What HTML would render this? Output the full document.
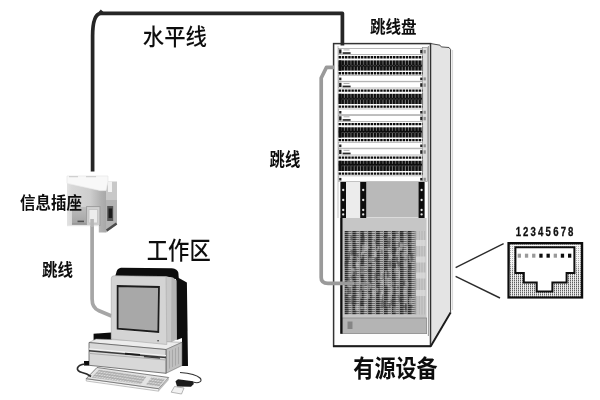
<!DOCTYPE html>
<html lang="zh">
<head>
<meta charset="utf-8">
<title>综合布线系统</title>
<style>
html,body{margin:0;padding:0;background:#fff;}
body{width:600px;height:400px;overflow:hidden;position:relative;font-family:"Liberation Sans","Noto Sans CJK SC",sans-serif;}
svg{position:absolute;left:0;top:0;display:block;}
text{font-family:"Liberation Sans","Noto Sans CJK SC",sans-serif;fill:#101010;}
</style>
</head>
<body>
<svg width="600" height="400" viewBox="0 0 600 400">
<defs>
  <filter id="soft" x="-2%" y="-2%" width="104%" height="104%"><feGaussianBlur stdDeviation="0.5"/></filter>
  <pattern id="ports" width="3.2" height="11" patternUnits="userSpaceOnUse" x="338.6">
    <rect width="3.2" height="11" fill="#101010"/>
    <rect x="2.3" y="0.6" width="0.9" height="9.2" fill="#7c7c7c"/>
  </pattern>
  <pattern id="vstripe" width="1.6" height="4" patternUnits="userSpaceOnUse">
    <rect width="1.6" height="4" fill="#c9c9c9"/>
    <rect width="0.7" height="4" fill="#b2b2b2"/>
  </pattern>
  <pattern id="dots" width="2" height="2" patternUnits="userSpaceOnUse">
    <rect width="2" height="2" fill="#ececec"/>
    <rect width="1" height="1.2" fill="#5e5e5e"/>
    <rect y="1.2" width="1" height="0.8" fill="#a8a8a8"/>
  </pattern>
  <pattern id="dots2" width="2" height="2" patternUnits="userSpaceOnUse">
    <rect width="2" height="2" fill="#f6f6f6"/>
    <rect width="1" height="1" fill="#b0b0b0"/>
  </pattern>
  <pattern id="dense" width="7.9" height="2" patternUnits="userSpaceOnUse" x="344.5" y="231">
    <rect width="7.9" height="2" fill="#858585"/>
    <rect x="0" y="0" width="3.8" height="1" fill="#2c2c2c"/>
    <rect x="0" y="1" width="3.8" height="1" fill="#7c7c7c"/>
    <rect x="3.8" y="0" width="3.4" height="1" fill="#6c6c6c"/>
    <rect x="3.8" y="1" width="3.4" height="1" fill="#b8b8b8"/>
    <rect x="7.2" y="0" width="0.7" height="2" fill="#a4a4a4"/>
  </pattern>
</defs>
<g filter="url(#soft)">
<!-- rack -->
<polygon points="430.5,43.5 440,45.2 441.3,46.9 449,47.5 450.6,49.6 450.6,312.5 430.5,346.3" fill="#e4e4e4" stroke="#4a4a4a" stroke-width="1"/>
<line x1="452.6" y1="50" x2="452.6" y2="310" stroke="#d8d8d8" stroke-width="1"/>
<rect x="333.6" y="43.6" width="96.9" height="302.6" fill="#fdfdfd" stroke="#333" stroke-width="1.5"/>
<line x1="428.4" y1="46" x2="428.4" y2="336" stroke="#8a8a8a" stroke-width="0.9"/>
<line x1="338" y1="46" x2="338" y2="218" stroke="#b5b5b5" stroke-width="0.8"/>
<rect x="422.6" y="47.5" width="4.9" height="134" fill="#dedede" stroke="#8a8a8a" stroke-width="0.6"/>
<rect x="338.6" y="48.4" width="84" height="6.2" fill="#fff" stroke="#9a9a9a" stroke-width="0.7"/>
<rect x="339.1" y="49.4" width="2.4" height="4.2" fill="#1c1c1c"/>
<rect x="342.6" y="52.2" width="8" height="1.7" fill="#2a2a2a"/>
<rect x="343.5" y="49.6" width="6" height="0.7" fill="#8a8a8a"/>
<line x1="338.6" y1="57.2" x2="422.5" y2="57.2" stroke="#0c0c0c" stroke-width="2.4" stroke-dasharray="2.45 0.75"/>
<line x1="338.6" y1="73.2" x2="422.5" y2="73.2" stroke="#0c0c0c" stroke-width="2.4" stroke-dasharray="2.45 0.75"/>
<rect x="338.6" y="60.4" width="83.6" height="10.2" fill="url(#ports)"/>
<rect x="338.6" y="60.4" width="3" height="10.2" fill="#0a0a0a"/>
<line x1="341.6" y1="65.6" x2="422.2" y2="65.6" stroke="#4a4a4a" stroke-width="0.8" stroke-dasharray="2.25 0.95"/>
<rect x="338.6" y="75.6" width="84" height="5.6" fill="#fff" stroke="#9a9a9a" stroke-width="0.6"/>
<rect x="339.2" y="77.6" width="2.2" height="2.6" fill="#222"/>
<rect x="423.6" y="50.0" width="2.2" height="3.4" fill="#8e8e8e"/>
<rect x="420.2" y="49.8" width="2.2" height="3.6" fill="#222"/>
<rect x="423.6" y="77.4" width="2.2" height="3" fill="#8e8e8e"/>
<rect x="420.2" y="77.6" width="2.2" height="2.6" fill="#222"/>
<line x1="422.6" y1="59.4" x2="422.6" y2="71.4" stroke="#666" stroke-width="0.7"/>
<rect x="338.6" y="81.8" width="84" height="6.2" fill="#fff" stroke="#9a9a9a" stroke-width="0.7"/>
<rect x="339.1" y="82.8" width="2.4" height="4.2" fill="#1c1c1c"/>
<rect x="342.6" y="85.6" width="8" height="1.7" fill="#2a2a2a"/>
<rect x="343.5" y="83.0" width="6" height="0.7" fill="#8a8a8a"/>
<line x1="338.6" y1="90.6" x2="422.5" y2="90.6" stroke="#0c0c0c" stroke-width="2.4" stroke-dasharray="2.45 0.75"/>
<line x1="338.6" y1="106.6" x2="422.5" y2="106.6" stroke="#0c0c0c" stroke-width="2.4" stroke-dasharray="2.45 0.75"/>
<rect x="338.6" y="93.8" width="83.6" height="10.2" fill="url(#ports)"/>
<rect x="338.6" y="93.8" width="3" height="10.2" fill="#0a0a0a"/>
<line x1="341.6" y1="99.0" x2="422.2" y2="99.0" stroke="#4a4a4a" stroke-width="0.8" stroke-dasharray="2.25 0.95"/>
<rect x="338.6" y="109.0" width="84" height="5.6" fill="#fff" stroke="#9a9a9a" stroke-width="0.6"/>
<rect x="339.2" y="111.0" width="2.2" height="2.6" fill="#222"/>
<rect x="423.6" y="83.4" width="2.2" height="3.4" fill="#8e8e8e"/>
<rect x="420.2" y="83.2" width="2.2" height="3.6" fill="#222"/>
<rect x="423.6" y="110.8" width="2.2" height="3" fill="#8e8e8e"/>
<rect x="420.2" y="111.0" width="2.2" height="2.6" fill="#222"/>
<line x1="422.6" y1="92.8" x2="422.6" y2="104.8" stroke="#666" stroke-width="0.7"/>
<rect x="338.6" y="115.3" width="84" height="6.2" fill="#fff" stroke="#9a9a9a" stroke-width="0.7"/>
<rect x="339.1" y="116.3" width="2.4" height="4.2" fill="#1c1c1c"/>
<rect x="342.6" y="119.1" width="8" height="1.7" fill="#2a2a2a"/>
<rect x="343.5" y="116.5" width="6" height="0.7" fill="#8a8a8a"/>
<line x1="338.6" y1="124.1" x2="422.5" y2="124.1" stroke="#0c0c0c" stroke-width="2.4" stroke-dasharray="2.45 0.75"/>
<line x1="338.6" y1="140.1" x2="422.5" y2="140.1" stroke="#0c0c0c" stroke-width="2.4" stroke-dasharray="2.45 0.75"/>
<rect x="338.6" y="127.3" width="83.6" height="10.2" fill="url(#ports)"/>
<rect x="338.6" y="127.3" width="3" height="10.2" fill="#0a0a0a"/>
<line x1="341.6" y1="132.5" x2="422.2" y2="132.5" stroke="#4a4a4a" stroke-width="0.8" stroke-dasharray="2.25 0.95"/>
<rect x="338.6" y="142.5" width="84" height="5.6" fill="#fff" stroke="#9a9a9a" stroke-width="0.6"/>
<rect x="339.2" y="144.5" width="2.2" height="2.6" fill="#222"/>
<rect x="423.6" y="116.9" width="2.2" height="3.4" fill="#8e8e8e"/>
<rect x="420.2" y="116.7" width="2.2" height="3.6" fill="#222"/>
<rect x="423.6" y="144.3" width="2.2" height="3" fill="#8e8e8e"/>
<rect x="420.2" y="144.5" width="2.2" height="2.6" fill="#222"/>
<line x1="422.6" y1="126.3" x2="422.6" y2="138.3" stroke="#666" stroke-width="0.7"/>
<rect x="338.6" y="148.8" width="84" height="6.2" fill="#fff" stroke="#9a9a9a" stroke-width="0.7"/>
<rect x="339.1" y="149.8" width="2.4" height="4.2" fill="#1c1c1c"/>
<rect x="342.6" y="152.6" width="8" height="1.7" fill="#2a2a2a"/>
<rect x="343.5" y="149.9" width="6" height="0.7" fill="#8a8a8a"/>
<line x1="338.6" y1="157.6" x2="422.5" y2="157.6" stroke="#0c0c0c" stroke-width="2.4" stroke-dasharray="2.45 0.75"/>
<line x1="338.6" y1="173.6" x2="422.5" y2="173.6" stroke="#0c0c0c" stroke-width="2.4" stroke-dasharray="2.45 0.75"/>
<rect x="338.6" y="160.8" width="83.6" height="10.2" fill="url(#ports)"/>
<rect x="338.6" y="160.8" width="3" height="10.2" fill="#0a0a0a"/>
<line x1="341.6" y1="165.9" x2="422.2" y2="165.9" stroke="#4a4a4a" stroke-width="0.8" stroke-dasharray="2.25 0.95"/>
<rect x="338.6" y="175.9" width="84" height="5.6" fill="#fff" stroke="#9a9a9a" stroke-width="0.6"/>
<rect x="339.2" y="177.9" width="2.2" height="2.6" fill="#222"/>
<rect x="423.6" y="150.3" width="2.2" height="3.4" fill="#8e8e8e"/>
<rect x="420.2" y="150.2" width="2.2" height="3.6" fill="#222"/>
<rect x="423.6" y="177.8" width="2.2" height="3" fill="#8e8e8e"/>
<rect x="420.2" y="177.9" width="2.2" height="2.6" fill="#222"/>
<line x1="422.6" y1="159.8" x2="422.6" y2="171.8" stroke="#666" stroke-width="0.7"/>
<rect x="346" y="182" width="14" height="36" fill="#ececec"/>
<rect x="366" y="182" width="53" height="35.5" fill="#b9b9b9"/>
<rect x="340.4" y="182" width="5.6" height="36" fill="#0e0e0e"/>
<circle cx="343.2" cy="190" r="1.15" fill="#e8e8e8"/>
<circle cx="343.2" cy="200" r="1.15" fill="#e8e8e8"/>
<circle cx="343.2" cy="210" r="1.15" fill="#e8e8e8"/>
<circle cx="343.2" cy="214.4" r="1.15" fill="#e8e8e8"/>
<rect x="360.2" y="182" width="6" height="36" fill="#0e0e0e"/>
<circle cx="363.2" cy="190" r="1.15" fill="#e8e8e8"/>
<circle cx="363.2" cy="200" r="1.15" fill="#e8e8e8"/>
<circle cx="363.2" cy="210" r="1.15" fill="#e8e8e8"/>
<circle cx="363.2" cy="214.4" r="1.15" fill="#e8e8e8"/>
<rect x="418.6" y="182" width="6" height="36" fill="#0e0e0e"/>
<circle cx="421.6" cy="190" r="1.15" fill="#e8e8e8"/>
<circle cx="421.6" cy="200" r="1.15" fill="#e8e8e8"/>
<circle cx="421.6" cy="210" r="1.15" fill="#e8e8e8"/>
<circle cx="421.6" cy="214.4" r="1.15" fill="#e8e8e8"/>
<rect x="342" y="218" width="84.6" height="100" fill="#c6c6c6"/>
<rect x="344.5" y="231" width="71.1" height="83.4" fill="url(#dense)"/>
<rect x="365.9" y="242.8" width="1.5" height="2" fill="#4a4a4a" opacity=".38"/>
<rect x="350.7" y="276.5" width="2" height="2" fill="#2a2a2a" opacity=".38"/>
<rect x="373.1" y="236.4" width="1.5" height="6" fill="#c0c0c0" opacity=".38"/>
<rect x="348.4" y="275.1" width="2" height="8" fill="#b0b0b0" opacity=".38"/>
<rect x="383.0" y="235.8" width="3.5" height="2" fill="#3a3a3a" opacity=".38"/>
<rect x="347.6" y="298.0" width="3" height="5" fill="#3a3a3a" opacity=".38"/>
<rect x="380.2" y="275.5" width="2" height="2" fill="#4a4a4a" opacity=".38"/>
<rect x="382.2" y="245.7" width="1.5" height="6" fill="#b0b0b0" opacity=".38"/>
<rect x="348.6" y="235.6" width="2" height="5" fill="#b0b0b0" opacity=".38"/>
<rect x="379.6" y="291.6" width="3.5" height="6" fill="#c0c0c0" opacity=".38"/>
<rect x="368.4" y="250.4" width="2" height="8" fill="#3a3a3a" opacity=".38"/>
<rect x="349.9" y="254.4" width="3.5" height="4" fill="#b0b0b0" opacity=".38"/>
<rect x="374.1" y="278.5" width="1.5" height="2" fill="#4a4a4a" opacity=".38"/>
<rect x="372.1" y="290.1" width="2" height="5" fill="#c0c0c0" opacity=".38"/>
<rect x="347.1" y="283.1" width="3" height="4" fill="#b0b0b0" opacity=".38"/>
<rect x="367.6" y="269.7" width="3.5" height="2" fill="#2a2a2a" opacity=".38"/>
<rect x="406.8" y="268.0" width="1.5" height="2" fill="#b0b0b0" opacity=".38"/>
<rect x="390.8" y="281.5" width="3.5" height="4" fill="#b0b0b0" opacity=".38"/>
<rect x="370.0" y="283.2" width="1.5" height="5" fill="#d2d2d2" opacity=".38"/>
<rect x="355.6" y="240.1" width="1.5" height="3" fill="#d2d2d2" opacity=".38"/>
<rect x="353.0" y="250.3" width="3.5" height="5" fill="#2a2a2a" opacity=".38"/>
<rect x="355.5" y="262.3" width="3" height="3" fill="#c0c0c0" opacity=".38"/>
<rect x="401.5" y="252.7" width="3.5" height="4" fill="#b0b0b0" opacity=".38"/>
<rect x="402.9" y="305.7" width="2" height="2" fill="#3a3a3a" opacity=".38"/>
<rect x="354.5" y="282.4" width="1.5" height="5" fill="#4a4a4a" opacity=".38"/>
<rect x="356.5" y="253.0" width="2" height="5" fill="#4a4a4a" opacity=".38"/>
<rect x="368.9" y="275.2" width="2" height="8" fill="#4a4a4a" opacity=".38"/>
<rect x="407.2" y="282.1" width="1.5" height="5" fill="#b0b0b0" opacity=".38"/>
<rect x="397.2" y="261.6" width="3.5" height="5" fill="#2a2a2a" opacity=".38"/>
<rect x="376.3" y="262.2" width="2" height="2" fill="#3a3a3a" opacity=".38"/>
<rect x="373.6" y="239.6" width="1.5" height="2" fill="#2a2a2a" opacity=".38"/>
<rect x="381.9" y="272.9" width="3" height="6" fill="#2a2a2a" opacity=".38"/>
<rect x="349.1" y="247.2" width="3.5" height="3" fill="#b0b0b0" opacity=".38"/>
<rect x="361.1" y="258.1" width="3" height="5" fill="#2a2a2a" opacity=".38"/>
<rect x="352.1" y="269.1" width="3.5" height="5" fill="#c0c0c0" opacity=".38"/>
<rect x="365.1" y="242.2" width="3" height="8" fill="#d2d2d2" opacity=".38"/>
<rect x="376.1" y="285.0" width="1.5" height="3" fill="#4a4a4a" opacity=".38"/>
<rect x="368.4" y="284.8" width="1.5" height="6" fill="#d2d2d2" opacity=".38"/>
<rect x="409.1" y="298.3" width="3" height="6" fill="#d2d2d2" opacity=".38"/>
<rect x="404.4" y="258.7" width="2" height="6" fill="#4a4a4a" opacity=".38"/>
<rect x="395.9" y="256.7" width="2" height="6" fill="#3a3a3a" opacity=".38"/>
<rect x="397.7" y="294.8" width="2" height="3" fill="#4a4a4a" opacity=".38"/>
<rect x="377.0" y="288.0" width="1.5" height="4" fill="#c0c0c0" opacity=".38"/>
<rect x="361.6" y="285.0" width="3" height="5" fill="#b0b0b0" opacity=".38"/>
<rect x="409.7" y="305.5" width="3" height="2" fill="#3a3a3a" opacity=".38"/>
<rect x="351.2" y="267.7" width="3" height="3" fill="#c0c0c0" opacity=".38"/>
<rect x="385.7" y="301.2" width="1.5" height="5" fill="#b0b0b0" opacity=".38"/>
<rect x="367.2" y="281.2" width="1.5" height="5" fill="#b0b0b0" opacity=".38"/>
<rect x="394.0" y="268.3" width="2" height="5" fill="#b0b0b0" opacity=".38"/>
<rect x="366.4" y="293.5" width="3.5" height="5" fill="#c0c0c0" opacity=".38"/>
<rect x="393.6" y="237.6" width="2" height="3" fill="#3a3a3a" opacity=".38"/>
<rect x="346.3" y="277.1" width="3.5" height="8" fill="#3a3a3a" opacity=".38"/>
<rect x="384.9" y="277.5" width="3.5" height="8" fill="#d2d2d2" opacity=".38"/>
<rect x="354.8" y="273.8" width="1.5" height="2" fill="#b0b0b0" opacity=".38"/>
<rect x="387.4" y="272.1" width="2" height="5" fill="#3a3a3a" opacity=".38"/>
<rect x="399.0" y="247.5" width="3" height="3" fill="#d2d2d2" opacity=".38"/>
<rect x="377.6" y="290.6" width="3" height="4" fill="#4a4a4a" opacity=".38"/>
<rect x="372.2" y="241.2" width="3" height="5" fill="#b0b0b0" opacity=".38"/>
<rect x="383.0" y="301.5" width="3.5" height="6" fill="#3a3a3a" opacity=".38"/>
<rect x="379.6" y="271.8" width="1.5" height="5" fill="#3a3a3a" opacity=".38"/>
<rect x="384.7" y="291.5" width="2" height="3" fill="#3a3a3a" opacity=".38"/>
<rect x="375.8" y="287.6" width="1.5" height="4" fill="#b0b0b0" opacity=".38"/>
<rect x="378.7" y="274.3" width="1.5" height="6" fill="#2a2a2a" opacity=".38"/>
<rect x="360.9" y="252.6" width="1.5" height="6" fill="#c0c0c0" opacity=".38"/>
<rect x="381.6" y="290.3" width="1.5" height="5" fill="#d2d2d2" opacity=".38"/>
<rect x="384.9" y="270.4" width="2" height="8" fill="#d2d2d2" opacity=".38"/>
<rect x="374.4" y="272.6" width="3.5" height="6" fill="#3a3a3a" opacity=".38"/>
<rect x="390.6" y="299.4" width="3" height="6" fill="#3a3a3a" opacity=".38"/>
<rect x="399.9" y="241.7" width="1.5" height="5" fill="#c0c0c0" opacity=".38"/>
<rect x="365.4" y="283.4" width="3.5" height="2" fill="#3a3a3a" opacity=".38"/>
<rect x="388.7" y="292.1" width="2" height="8" fill="#b0b0b0" opacity=".38"/>
<rect x="388.1" y="242.2" width="2" height="5" fill="#3a3a3a" opacity=".38"/>
<rect x="393.8" y="238.3" width="3.5" height="3" fill="#b0b0b0" opacity=".38"/>
<rect x="399.4" y="243.6" width="3.5" height="6" fill="#c0c0c0" opacity=".38"/>
<rect x="366.9" y="246.3" width="3" height="2" fill="#b0b0b0" opacity=".38"/>
<rect x="368.7" y="257.4" width="3.5" height="5" fill="#b0b0b0" opacity=".38"/>
<rect x="345.7" y="256.9" width="3" height="6" fill="#2a2a2a" opacity=".38"/>
<rect x="351.9" y="302.6" width="2" height="2" fill="#2a2a2a" opacity=".38"/>
<rect x="362.0" y="234.1" width="2" height="4" fill="#3a3a3a" opacity=".38"/>
<rect x="398.6" y="297.3" width="3" height="5" fill="#3a3a3a" opacity=".38"/>
<rect x="379.9" y="271.2" width="3.5" height="8" fill="#d2d2d2" opacity=".38"/>
<rect x="350.4" y="235.5" width="2" height="5" fill="#2a2a2a" opacity=".38"/>
<rect x="362.2" y="232.3" width="1.5" height="4" fill="#2a2a2a" opacity=".38"/>
<rect x="384.6" y="248.3" width="3" height="2" fill="#c0c0c0" opacity=".38"/>
<rect x="345.3" y="308.6" width="3.5" height="4" fill="#4a4a4a" opacity=".38"/>
<rect x="353.0" y="272.1" width="2" height="2" fill="#3a3a3a" opacity=".38"/>
<rect x="361.8" y="245.1" width="3" height="8" fill="#d2d2d2" opacity=".38"/>
<rect x="379.6" y="247.1" width="3.5" height="6" fill="#b0b0b0" opacity=".38"/>
<rect x="356.2" y="258.1" width="1.5" height="4" fill="#2a2a2a" opacity=".38"/>
<rect x="345.5" y="288.2" width="2" height="6" fill="#c0c0c0" opacity=".38"/>
<rect x="360.7" y="265.9" width="3.5" height="8" fill="#c0c0c0" opacity=".38"/>
<rect x="380.5" y="300.3" width="3" height="8" fill="#3a3a3a" opacity=".38"/>
<rect x="409.3" y="257.7" width="2" height="5" fill="#d2d2d2" opacity=".38"/>
<rect x="409.3" y="296.3" width="1.5" height="2" fill="#b0b0b0" opacity=".38"/>
<rect x="393.4" y="250.9" width="2" height="2" fill="#2a2a2a" opacity=".38"/>
<rect x="388.4" y="260.7" width="3" height="6" fill="#3a3a3a" opacity=".38"/>
<rect x="390.2" y="234.5" width="2" height="3" fill="#d2d2d2" opacity=".38"/>
<rect x="373.9" y="251.5" width="3" height="6" fill="#d2d2d2" opacity=".38"/>
<rect x="360.6" y="306.3" width="3" height="3" fill="#d2d2d2" opacity=".38"/>
<rect x="356.6" y="257.2" width="1.5" height="5" fill="#d2d2d2" opacity=".38"/>
<rect x="377.7" y="246.7" width="1.5" height="2" fill="#d2d2d2" opacity=".38"/>
<rect x="398.4" y="242.2" width="1.5" height="5" fill="#2a2a2a" opacity=".38"/>
<rect x="364.3" y="280.1" width="1.5" height="6" fill="#4a4a4a" opacity=".38"/>
<rect x="400.8" y="243.1" width="3.5" height="4" fill="#b0b0b0" opacity=".38"/>
<rect x="409.5" y="242.7" width="2" height="2" fill="#b0b0b0" opacity=".38"/>
<rect x="403.4" y="279.9" width="2" height="6" fill="#4a4a4a" opacity=".38"/>
<rect x="382.0" y="294.4" width="1.5" height="8" fill="#4a4a4a" opacity=".38"/>
<rect x="397.2" y="286.5" width="2" height="2" fill="#2a2a2a" opacity=".38"/>
<rect x="347.3" y="280.7" width="1.5" height="5" fill="#c0c0c0" opacity=".38"/>
<rect x="381.4" y="280.0" width="2" height="5" fill="#d2d2d2" opacity=".38"/>
<rect x="344.7" y="293.2" width="1.5" height="8" fill="#4a4a4a" opacity=".38"/>
<rect x="348.9" y="288.5" width="3" height="2" fill="#d2d2d2" opacity=".38"/>
<rect x="360.0" y="290.0" width="2" height="8" fill="#b0b0b0" opacity=".38"/>
<rect x="408.9" y="269.5" width="3.5" height="2" fill="#c0c0c0" opacity=".38"/>
<rect x="404.6" y="253.4" width="1.5" height="6" fill="#b0b0b0" opacity=".38"/>
<rect x="386.9" y="237.0" width="2" height="4" fill="#d2d2d2" opacity=".38"/>
<rect x="387.5" y="285.0" width="2" height="2" fill="#c0c0c0" opacity=".38"/>
<rect x="348.5" y="252.0" width="1.5" height="8" fill="#3a3a3a" opacity=".38"/>
<rect x="389.1" y="253.7" width="3" height="5" fill="#c0c0c0" opacity=".38"/>
<rect x="375.3" y="240.2" width="2" height="4" fill="#2a2a2a" opacity=".38"/>
<rect x="406.3" y="232.4" width="3.5" height="2" fill="#4a4a4a" opacity=".38"/>
<rect x="408.4" y="266.1" width="3" height="5" fill="#3a3a3a" opacity=".38"/>
<rect x="405.0" y="303.6" width="1.5" height="6" fill="#2a2a2a" opacity=".38"/>
<rect x="353.9" y="271.9" width="3" height="3" fill="#4a4a4a" opacity=".38"/>
<rect x="398.6" y="270.7" width="1.5" height="8" fill="#d2d2d2" opacity=".38"/>
<rect x="359.8" y="301.0" width="3.5" height="5" fill="#2a2a2a" opacity=".38"/>
<rect x="355.0" y="305.1" width="3.5" height="5" fill="#d2d2d2" opacity=".38"/>
<rect x="392.5" y="263.5" width="3.5" height="4" fill="#2a2a2a" opacity=".38"/>
<rect x="400.0" y="231.1" width="3" height="5" fill="#2a2a2a" opacity=".38"/>
<rect x="406.5" y="246.3" width="1.5" height="8" fill="#d2d2d2" opacity=".38"/>
<rect x="361.2" y="236.1" width="3.5" height="6" fill="#2a2a2a" opacity=".38"/>
<rect x="368.3" y="264.4" width="3" height="2" fill="#d2d2d2" opacity=".38"/>
<rect x="351.2" y="296.1" width="3" height="8" fill="#3a3a3a" opacity=".38"/>
<rect x="361.0" y="251.7" width="3" height="3" fill="#d2d2d2" opacity=".38"/>
<rect x="396.3" y="264.4" width="1.5" height="8" fill="#c0c0c0" opacity=".38"/>
<rect x="404.8" y="304.4" width="2" height="8" fill="#2a2a2a" opacity=".38"/>
<rect x="347.8" y="288.1" width="3.5" height="6" fill="#3a3a3a" opacity=".38"/>
<rect x="387.0" y="253.3" width="1.5" height="6" fill="#3a3a3a" opacity=".38"/>
<rect x="355.8" y="263.4" width="3" height="4" fill="#d2d2d2" opacity=".38"/>
<rect x="393.3" y="307.2" width="3" height="5" fill="#b0b0b0" opacity=".38"/>
<rect x="360.3" y="268.7" width="3.5" height="2" fill="#3a3a3a" opacity=".38"/>
<rect x="387.0" y="236.9" width="3.5" height="6" fill="#3a3a3a" opacity=".38"/>
<rect x="374.4" y="257.0" width="3.5" height="5" fill="#3a3a3a" opacity=".38"/>
<rect x="380.7" y="250.0" width="2" height="4" fill="#4a4a4a" opacity=".38"/>
<rect x="350.5" y="249.7" width="3" height="6" fill="#3a3a3a" opacity=".38"/>
<rect x="403.1" y="289.5" width="3.5" height="5" fill="#c0c0c0" opacity=".38"/>
<rect x="393.7" y="247.4" width="3" height="4" fill="#2a2a2a" opacity=".38"/>
<rect x="377.4" y="275.8" width="3" height="3" fill="#b0b0b0" opacity=".38"/>
<rect x="377.7" y="280.1" width="2" height="2" fill="#d2d2d2" opacity=".38"/>
<rect x="403.7" y="261.0" width="3.5" height="5" fill="#d2d2d2" opacity=".38"/>
<rect x="400.5" y="299.1" width="1.5" height="3" fill="#2a2a2a" opacity=".38"/>
<rect x="372.6" y="290.6" width="3.5" height="6" fill="#c0c0c0" opacity=".38"/>
<rect x="344.5" y="261.5" width="3.5" height="5" fill="#3a3a3a" opacity=".38"/>
<rect x="396.2" y="248.5" width="2" height="6" fill="#b0b0b0" opacity=".38"/>
<rect x="351.7" y="295.4" width="3.5" height="2" fill="#4a4a4a" opacity=".38"/>
<rect x="395.8" y="231.1" width="2" height="3" fill="#4a4a4a" opacity=".38"/>
<rect x="405.2" y="281.3" width="3" height="3" fill="#b0b0b0" opacity=".38"/>
<rect x="361.1" y="280.6" width="1.5" height="2" fill="#2a2a2a" opacity=".38"/>
<rect x="364.3" y="304.6" width="2" height="5" fill="#d2d2d2" opacity=".38"/>
<rect x="359.3" y="277.9" width="1.5" height="6" fill="#d2d2d2" opacity=".38"/>
<rect x="410.3" y="252.7" width="3" height="8" fill="#3a3a3a" opacity=".38"/>
<rect x="375.9" y="249.3" width="2" height="2" fill="#c0c0c0" opacity=".38"/>
<rect x="391.0" y="255.0" width="1.5" height="3" fill="#c0c0c0" opacity=".38"/>
<rect x="402.9" y="281.5" width="1.5" height="4" fill="#3a3a3a" opacity=".38"/>
<rect x="388.5" y="303.2" width="2" height="5" fill="#2a2a2a" opacity=".38"/>
<rect x="390.4" y="287.0" width="3" height="8" fill="#c0c0c0" opacity=".38"/>
<rect x="357.6" y="293.2" width="1.5" height="3" fill="#c0c0c0" opacity=".38"/>
<rect x="408.5" y="255.3" width="2" height="3" fill="#c0c0c0" opacity=".38"/>
<rect x="359.1" y="290.3" width="3" height="2" fill="#4a4a4a" opacity=".38"/>
<rect x="377.2" y="245.6" width="2" height="5" fill="#c0c0c0" opacity=".38"/>
<rect x="416" y="231" width="9.5" height="83.5" fill="url(#vstripe)"/>
<rect x="416" y="240" width="9.5" height="6" fill="#dcdcdc" opacity=".75"/>
<rect x="416" y="256.5" width="9.5" height="6" fill="#dcdcdc" opacity=".75"/>
<rect x="416" y="272.5" width="9.5" height="6" fill="#dcdcdc" opacity=".75"/>
<rect x="416" y="290" width="9.5" height="6" fill="#dcdcdc" opacity=".75"/>
<rect x="342" y="318" width="84.6" height="15.6" fill="#b4b4b4" stroke="#8a8a8a" stroke-width="0.8"/>
<rect x="347.5" y="321.5" width="5" height="7.5" fill="#858585"/>
<rect x="340.2" y="218" width="2.3" height="115.8" fill="#0a0a0a"/>
<line x1="333" y1="346.2" x2="431" y2="346.2" stroke="#1e1e1e" stroke-width="2"/>
<line x1="430.6" y1="346.6" x2="450.6" y2="312.6" stroke="#1e1e1e" stroke-width="1.9"/>

<!-- cables -->
<path d="M92.6 171.5 V36 Q92.6 14.5 100.5 13.3 H342.4 V45.5" fill="none" stroke="#262626" stroke-width="3.7" stroke-linejoin="round"/>
<path d="M98.6 12 L100.8 9.6 L103.4 12 Z" fill="#262626"/>
<path d="M334 67.3 H326.5 L321.2 78 V277.5 Q321.2 283.4 328 283.4 H354" fill="none" stroke="#9a9a9a" stroke-width="3.7" stroke-linejoin="round"/>
<path d="M354 283.4 H370" fill="none" stroke="#a4a4a4" stroke-width="3" opacity=".55"/>
<path d="M92.1 226 V299 Q92.1 308 99 310.8 L111.5 316" fill="none" stroke="#a6a6a6" stroke-width="3.7" stroke-linejoin="round"/>

<!-- outlet -->
<defs>
<linearGradient id="ofront" x1="0" y1="0" x2="1" y2="0"><stop offset="0" stop-color="#e2e2e2"/><stop offset="0.12" stop-color="#d8d8d8"/><stop offset="0.6" stop-color="#cdcdcd"/><stop offset="0.86" stop-color="#b2b2b2"/><stop offset="1" stop-color="#a8a8a8"/></linearGradient>
<linearGradient id="olow" x1="0" y1="0" x2="0" y2="1"><stop offset="0" stop-color="#bebebe"/><stop offset="1" stop-color="#a2a2a2"/></linearGradient>
</defs>
<polygon points="106,190 108,181.5 117,181.5 117,224.6 106,232.5" fill="#c8c8c8"/>
<polygon points="106,200 117,200 117,224.6 106,232.5" fill="#b4b4b4"/>
<line x1="106.6" y1="230.4" x2="116.6" y2="223.4" stroke="#4c4c4c" stroke-width="2.4"/>
<rect x="108" y="181.5" width="4" height="10.5" fill="#f2f2f2"/>
<rect x="107.2" y="206" width="6" height="15" fill="#555"/>
<rect x="108.6" y="208.5" width="3.6" height="9.5" fill="#1c1c1c"/>
<polygon points="67,183.2 100,190.4 106,190.4 106,232.5 98.8,232.5 98.8,226 67,226" fill="url(#ofront)"/>
<polygon points="67,176 108,176 108,181.5 106,190.6 100,190.6 67,183.4" fill="#f8f8f8" stroke="#e2e2e2" stroke-width="0.6"/>
<rect x="69" y="176.2" width="9" height="1" fill="#c8c8c8"/><rect x="86" y="176.2" width="10" height="1" fill="#c8c8c8"/>
<rect x="72" y="207" width="14.4" height="17.4" fill="url(#olow)"/>
<rect x="72" y="223.6" width="14.4" height="1" fill="#8a8a8a"/>
<rect x="86.6" y="206.6" width="13.4" height="18.8" fill="#d0d0d0" stroke="#9a9a9a" stroke-width="0.9"/>
<rect x="89" y="209.6" width="8.6" height="13.4" fill="#ececec" stroke="#bcbcbc" stroke-width="0.7"/>
<rect x="77.5" y="220.6" width="6.5" height="1.6" fill="#505050"/>
<rect x="67" y="225" width="32" height="1.2" fill="#e6e6e6"/>
<rect x="90.3" y="219" width="3.6" height="8" fill="#b6b6b6"/>

<!-- computer -->
<defs>
<pattern id="keys" width="2.9" height="2.4" patternUnits="userSpaceOnUse" patternTransform="skewX(-38) rotate(7.8)">
<rect width="2.9" height="2.4" fill="#a2a2a2"/><rect x="0.5" y="0.4" width="2" height="1.6" fill="#dcdcdc"/>
</pattern>
</defs>
<!-- black back parts -->
<path d="M115,277 L116.6,271.5 Q117.6,268.2 121,267.8 L172,268.3 Q177.5,269 178.3,272.5 L178.8,278 L186.9,282.5 L188,366 L182,366 L182,338 L176.6,340 L176,279 Z" fill="#0d0d0d"/>
<polygon points="93.6,333.8 111.5,332.6 111.5,342 96,341.6 93.6,340" fill="#0d0d0d"/>
<!-- monitor side casing -->
<polygon points="166,276.6 173,277.6 176.6,280.4 176.6,339.5 166.5,344.5" fill="#b4b4b4"/>
<polygon points="166,276.6 171.5,277.4 171,341.8 166.5,344.5" fill="#c8c8c8"/>
<!-- case -->
<polygon points="89,342.5 96,339 182,342.3 166,349.5" fill="#ececec" stroke="#8a8a8a" stroke-width="0.5"/>
<polygon points="166,349.5 182,342.3 182,365.5 166,373.3" fill="#c0c0c0" stroke="#6a6a6a" stroke-width="0.6"/>
<line x1="169.5" y1="350.9" x2="169.5" y2="368.6" stroke="#9c9c9c" stroke-width="0.7"/>
<line x1="172.5" y1="349.6" x2="172.5" y2="367.1" stroke="#9c9c9c" stroke-width="0.7"/>
<line x1="175.5" y1="348.2" x2="175.5" y2="365.6" stroke="#9c9c9c" stroke-width="0.7"/>
<line x1="178.5" y1="346.9" x2="178.5" y2="364.2" stroke="#9c9c9c" stroke-width="0.7"/>
<polygon points="89,342.5 166,349.5 166,373.3 89,365.3" fill="#d8d8d8" stroke="#5a5a5a" stroke-width="0.8"/>
<line x1="89" y1="348.9" x2="166" y2="355.6" stroke="#f6f6f6" stroke-width="1"/>
<line x1="89" y1="350.8" x2="166" y2="357.4" stroke="#3a3a3a" stroke-width="1.5"/>
<line x1="89" y1="353.4" x2="166" y2="360" stroke="#a8a8a8" stroke-width="0.9"/>
<line x1="125" y1="353.6" x2="140" y2="354.9" stroke="#1e1e1e" stroke-width="1.7"/>
<line x1="144" y1="356.6" x2="160" y2="358" stroke="#3a3a3a" stroke-width="1.5"/>
<!-- bezel -->
<path d="M111.3,278.5 Q111.3,275.8 114,275.8 L166,276.6 L166.8,344.5 L111.3,339 Z" fill="#d4d4d4" stroke="#b0b0b0" stroke-width="0.7"/>
<polygon points="116.6,285 160,286.2 159.3,333.2 116.6,329.8" fill="#f0f0f0"/>
<polygon points="117.6,286 159,287 158.3,332 117.6,328.7" fill="#a8a8a8" stroke="#1e1e1e" stroke-width="1.8"/>
<rect x="157.3" y="340" width="1.6" height="1.4" fill="#555"/>
<!-- keyboard -->
<polygon points="86.2,378.7 158.7,388.7 158.7,391.2 86.2,381" fill="#f4f4f4" stroke="#888" stroke-width="0.5"/>
<polygon points="97,367.5 168.7,377.5 158.7,388.7 86.2,378.7" fill="#e3e3e3" stroke="#666" stroke-width="0.8"/>
<polygon points="168.7,377.5 168.7,380 158.7,391.2 158.7,388.7" fill="#bbb"/>
<polygon points="99,369.8 146.5,376.4 141,384.2 91.5,377.4" fill="url(#keys)"/>
<polygon points="151.5,377.2 165,379 159.5,386.6 145.8,384.8" fill="url(#keys)"/>
<!-- mouse -->
<path d="M193 382 C199 384 203 381 200 378 C196 374 186 373 180 372.5" fill="none" stroke="#333" stroke-width="1.1"/>
<polygon points="175.5,381.2 178,379.3 193,381.2 193.8,384 191,386.8 177,386.6" fill="#1a1a1a"/>
<polygon points="174.5,386.5 184,388 181.5,394 171.2,392.2" fill="#f2f2f2" stroke="#999" stroke-width="0.7"/>
<!-- left cable -->
<rect x="84" y="361" width="5" height="4.6" fill="#111"/>
<path d="M85 364 C76 365 75 371 82 372.5 C87 373.5 89 375 91 376.5" fill="none" stroke="#2a2a2a" stroke-width="1.7"/>

<!-- rj45 -->
<defs>
<linearGradient id="hfade" x1="0" y1="0" x2="0" y2="1"><stop offset="0" stop-color="#fff" stop-opacity="0"/><stop offset="0.35" stop-color="#fff" stop-opacity="0"/><stop offset="0.6" stop-color="#fff" stop-opacity="1"/><stop offset="1" stop-color="#fff" stop-opacity="1"/></linearGradient>
<mask id="hmask"><rect x="505" y="240" width="80" height="60" fill="url(#hfade)"/></mask>
</defs>
<line x1="455.6" y1="267.6" x2="503.6" y2="243.6" stroke="#2c2c2c" stroke-width="1.4"/>
<line x1="455.6" y1="276.4" x2="500" y2="298" stroke="#2c2c2c" stroke-width="1.4"/>
<rect x="508.6" y="243.2" width="73.4" height="54.2" fill="url(#dots2)" stroke="#0c0c0c" stroke-width="2.4"/>
<rect x="509.8" y="244.4" width="71" height="51.8" fill="url(#dots)" mask="url(#hmask)"/>
<path d="M515.4 247.2 H574.4 V273 H566.6 V282.5 H552.4 V291.5 H536.7 V282.5 H523.8 V273 H515.4 Z" fill="#fff" stroke="#0c0c0c" stroke-width="2"/>
<g>
<rect x="517.7" y="253.7" width="3.3" height="4" fill="#9a9a9a"/>
<rect x="524.9" y="253.7" width="3.3" height="4" fill="#9a9a9a"/>
<rect x="532.1" y="253.7" width="3.3" height="4" fill="#9a9a9a"/>
<rect x="539.3" y="253.7" width="3.3" height="4" fill="#0c0c0c"/>
<rect x="546.5" y="253.7" width="3.3" height="4" fill="#0c0c0c"/>
<rect x="553.7" y="253.7" width="3.3" height="4" fill="#9a9a9a"/>
<rect x="560.8" y="253.7" width="3.3" height="4" fill="#0c0c0c"/>
<rect x="568.0" y="253.7" width="3.3" height="4" fill="#0c0c0c"/>
</g>

<!-- labels -->
<text transform="translate(142.8,44.6) scale(1,1.07)" font-size="21.4" font-weight="500">水平线</text>
<text transform="translate(370,32.6) scale(0.96,1.04)" font-size="16.2" font-weight="700">跳线盘</text>
<text transform="translate(269.6,166.2) scale(0.97,1.15)" font-size="15.8" font-weight="700">跳线</text>
<text transform="translate(20,209) scale(0.98,1.05)" font-size="15.8" font-weight="700">信息插座</text>
<text transform="translate(146.8,259.4) scale(1,1.13)" font-size="21.3" font-weight="500">工作区</text>
<text transform="translate(42,276.1) scale(0.98,1.1)" font-size="15.8" font-weight="700">跳线</text>
<text transform="translate(353.3,377.4) scale(1,1.12)" font-size="21.1" font-weight="700">有源设备</text>
<text font-size="12.3" font-weight="700" stroke="#101010" stroke-width="0.3" text-anchor="middle" transform="scale(0.78,1)"><tspan x="664.5" y="236.2">1</tspan><tspan x="674.1" y="236.2">2</tspan><tspan x="683.7" y="236.2">3</tspan><tspan x="693.3" y="236.2">4</tspan><tspan x="702.9" y="236.2">5</tspan><tspan x="712.6" y="236.2">6</tspan><tspan x="722.2" y="236.2">7</tspan><tspan x="731.8" y="236.2">8</tspan></text>

</g>
</svg>
</body>
</html>
